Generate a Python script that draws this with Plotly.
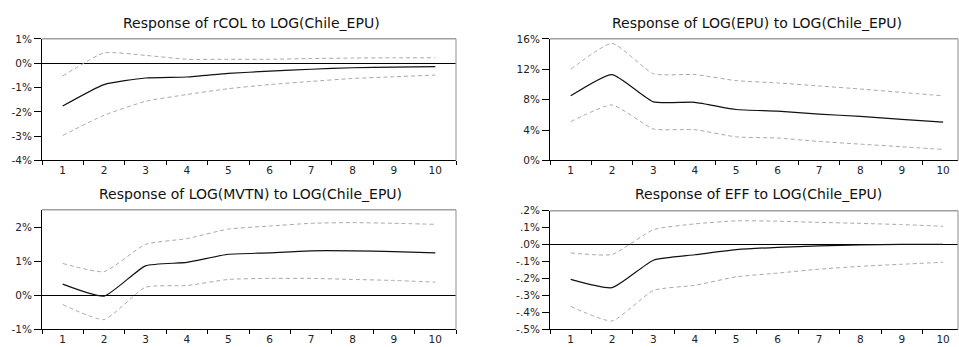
import plotly.graph_objects as go

steps = [1, 2, 3, 4, 5, 6, 7, 8, 9, 10]
step_labels = ["1", "2", "3", "4", "5", "6", "7", "8", "9", "10"]

titles = [
    "Response of rCOL to LOG(Chile_EPU)",
    "Response of LOG(EPU) to LOG(Chile_EPU)",
    "Response of LOG(MVTN) to LOG(Chile_EPU)",
    "Response of EFF to LOG(Chile_EPU)",
]

# values in percent
rcol_mid = [-1.76, -0.88, -0.61, -0.57, -0.42, -0.33, -0.25, -0.19, -0.16, -0.14]
rcol_up = [-0.53, 0.42, 0.32, 0.16, 0.16, 0.16, 0.19, 0.21, 0.22, 0.22]
rcol_lo = [-2.97, -2.14, -1.57, -1.29, -1.05, -0.88, -0.75, -0.63, -0.56, -0.49]

epu_mid = [8.5, 11.3, 7.7, 7.65, 6.7, 6.5, 6.1, 5.8, 5.4, 5.05]
epu_up = [12.0, 15.4, 11.4, 11.3, 10.5, 10.2, 9.8, 9.4, 8.95, 8.5]
epu_lo = [5.1, 7.3, 4.15, 4.05, 3.1, 2.95, 2.5, 2.15, 1.8, 1.45]

mvtn_mid = [0.33, -0.02, 0.87, 0.97, 1.21, 1.25, 1.31, 1.31, 1.29, 1.25]
mvtn_up = [0.94, 0.70, 1.50, 1.67, 1.95, 2.04, 2.12, 2.14, 2.12, 2.09]
mvtn_lo = [-0.27, -0.71, 0.24, 0.29, 0.47, 0.50, 0.50, 0.47, 0.44, 0.39]

eff_mid = [-0.205, -0.254, -0.092, -0.06, -0.03, -0.016, -0.008, -0.002, 0.001, 0.001]
eff_up = [-0.049, -0.058, 0.088, 0.122, 0.14, 0.138, 0.131, 0.125, 0.118, 0.108]
eff_lo = [-0.364, -0.45, -0.27, -0.24, -0.19, -0.168, -0.145, -0.128, -0.116, -0.104]

rcol_ticks = [1, 0, -1, -2, -3, -4]
rcol_ticktext = ["1%", "0%", "-1%", "-2%", "-3%", "-4%"]
epu_ticks = [0, 4, 8, 12, 16]
epu_ticktext = ["0%", "4%", "8%", "12%", "16%"]
mvtn_ticks = [-1, 0, 1, 2]
mvtn_ticktext = ["-1%", "0%", "1%", "2%"]
eff_ticks = [0.2, 0.1, 0.0, -0.1, -0.2, -0.3, -0.4, -0.5]
eff_ticktext = [".2%", ".1%", ".0%", "-.1%", "-.2%", "-.3%", "-.4%", "-.5%"]

panels = [
    (rcol_mid, rcol_up, rcol_lo, rcol_ticks, rcol_ticktext, [-4, 1]),
    (epu_mid, epu_up, epu_lo, epu_ticks, epu_ticktext, [0, 16]),
    (mvtn_mid, mvtn_up, mvtn_lo, mvtn_ticks, mvtn_ticktext, [-1, 2.52]),
    (eff_mid, eff_up, eff_lo, eff_ticks, eff_ticktext, [-0.5, 0.2]),
]

W, H = 959, 347
# pixel boxes (left, right, top, bottom)
boxes = [(42, 456, 34, 160), (550, 958, 34, 160), (42, 456, 211, 335), (550, 958, 212, 335)]
xranges = [[0.5, 10.5], [0.5, 10.36], [0.5, 10.5], [0.5, 10.36]]
title_pos = [(251, 18), (757, 18), (250, 195), (758, 195)]

FONT = "DejaVu Sans"
TICKF = dict(family=FONT, size=10.5, color="#222")
fig = go.Figure()
layout = dict(
    width=W, height=H, margin=dict(l=0, r=0, t=0, b=0),
    paper_bgcolor="white", plot_bgcolor="white", showlegend=False,
    font=dict(family=FONT, size=10, color="#222"),
)
shapes = []
annotations = []
for i, (mid, up, lo, tv, tt, yr) in enumerate(panels):
    n = i + 1
    xa = "x" if n == 1 else f"x{n}"
    ya = "y" if n == 1 else f"y{n}"
    for vals, col, dash, w in [(up, "#a8a8a8", "4px,3px", 1), (lo, "#a8a8a8", "4px,3px", 1),
                               (mid, "#111", "solid", 1.2)]:
        fig.add_trace(go.Scatter(
            x=steps, y=vals, mode="lines", xaxis=xa, yaxis=ya,
            line=dict(color=col, dash=dash, width=w, shape="spline", smoothing=0.5),
            hoverinfo="skip",
        ))
    l, r, t, b = boxes[i]
    layout["xaxis" if n == 1 else f"xaxis{n}"] = dict(
        domain=[l / W, r / W], anchor=ya, range=xranges[i],
        tickvals=steps, ticktext=step_labels, ticks="",
        minor=dict(ticks="outside", ticklen=4, tickcolor="#000", tick0=0.5, dtick=1, showgrid=False),
        showline=True, linecolor="#000", linewidth=1, showgrid=False, zeroline=False,
        tickfont=TICKF, fixedrange=True,
    )
    layout["yaxis" if n == 1 else f"yaxis{n}"] = dict(
        domain=[(H - b) / H, (H - t) / H], anchor=xa, range=yr,
        tickvals=tv, ticktext=tt, ticks="outside", ticklen=7, tickcolor="#000",
        showline=True, linecolor="#000", linewidth=1, showgrid=False,
        zeroline=True, zerolinecolor="#000", zerolinewidth=1.3,
        tickfont=TICKF, fixedrange=True,
    )
    # gray top and right frame
    shapes.append(dict(type="line", xref=f"{xa} domain", yref=f"{ya} domain",
                       x0=0, x1=1, y0=1, y1=1, line=dict(color="#a0a0a0", width=1.5)))
    shapes.append(dict(type="line", xref=f"{xa} domain", yref=f"{ya} domain",
                       x0=1, x1=1, y0=0, y1=1, line=dict(color="#a0a0a0", width=1.2)))
    tx, ty = title_pos[i]
    annotations.append(dict(text=titles[i], xref="paper", yref="paper",
                            x=tx / W, y=(H - ty) / H, xanchor="center", yanchor="middle",
                            showarrow=False, font=dict(family=FONT, size=14, color="#111")))

layout["shapes"] = shapes
layout["annotations"] = annotations
fig.update_layout(**layout)
fig.write_html("out.html", config={"displayModeBar": False},
               post_script="document.body.style.margin='0';document.body.style.overflow='hidden';")
